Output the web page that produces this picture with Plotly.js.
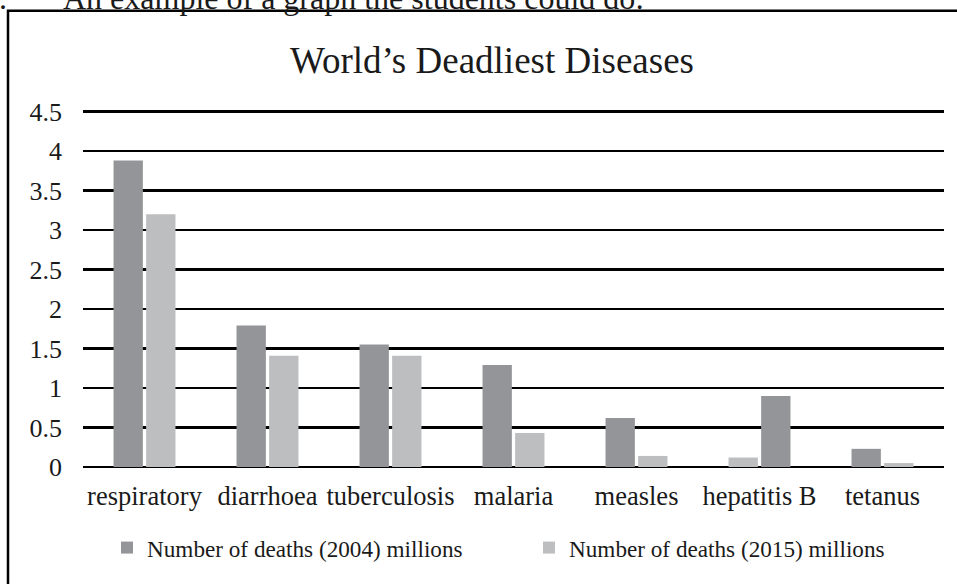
<!DOCTYPE html>
<html>
<head>
<meta charset="utf-8">
<script src="https://cdn.plot.ly/plotly-3.0.1.min.js"></script>
<style>
  html, body { margin: 0; padding: 0; background: #fff; }
  #chart { width: 957px; height: 584px; }
</style>
</head>
<body>
<div id="chart"></div>
<script>
// ---- data ----
const categories = ["respiratory", "diarrhoea", "tuberculosis", "malaria", "measles", "hepatitis B", "tetanus"];
const seriesNames = ["Number of deaths (2004) millions", "Number of deaths (2015) millions"];
// values as drawn in the left and right bar slots of each group
const leftValues  = [3.88, 1.79, 1.55, 1.29, 0.62, 0.12, 0.23];
const rightValues = [3.20, 1.41, 1.41, 0.43, 0.14, 0.90, 0.05];
// in the hepatitis B group the shading of the two bars is swapped
const swappedCategory = "hepatitis B";
const yTicks = [0, 0.5, 1, 1.5, 2, 2.5, 3, 3.5, 4, 4.5];
const titleText = "World\u2019s Deadliest Diseases";
const headingText = "An example of a graph the students could do:";

// ---- styles ----
const DARK = "#939598";
const LIGHT = "#bcbec0";
const TXT = "#1a1a1a";
const FONT = "Liberation Serif, Times New Roman, serif";

const leftColors = categories.map(c => c === swappedCategory ? LIGHT : DARK);
const rightColors = categories.map(c => c === swappedCategory ? DARK : LIGHT);

const W = 957, H = 584;
const yMax = 4.52;
const M = { l: 83, r: 13, t: 110.4, b: 116.5 };
const plotW = W - M.l - M.r, plotH = H - M.t - M.b;
const px2x = px => (px - M.l) / plotW;
const py2y = py => (H - M.b - py) / plotH;

const traces = [
  {
    type: "bar", name: seriesNames[0], x: categories, y: leftValues,
    marker: { color: leftColors, line: { width: 0 } }, hoverinfo: "x+y"
  },
  {
    type: "bar", name: seriesNames[1], x: categories, y: rightValues,
    marker: { color: rightColors, line: { width: 0 } }, hoverinfo: "x+y"
  }
];

const layout = {
  width: W, height: H,
  margin: M,
  paper_bgcolor: "#fff", plot_bgcolor: "#fff",
  font: { family: FONT, color: TXT, size: 25 },
  title: {
    text: titleText,
    font: { family: FONT, size: 37, color: TXT },
    x: 492 / W, xanchor: "center",
    y: 1 - 60 / H, yanchor: "middle", yref: "container"
  },
  barmode: "group",
  bargap: 0.47,
  bargroupgap: 0.1,
  xaxis: {
    type: "category",
    showgrid: false, showline: false, zeroline: false,
    ticks: "", ticklabelstandoff: 10,
    tickfont: { family: FONT, size: 26.5, color: TXT },
    fixedrange: true
  },
  yaxis: {
    range: [0, yMax],
    tickmode: "array", tickvals: yTicks, ticktext: yTicks.map(v => String(v)),
    showgrid: true, gridcolor: "#000", gridwidth: 2.5,
    zeroline: true, zerolinecolor: "#000", zerolinewidth: 2.5,
    showline: false, ticks: "", ticklabelstandoff: 20,
    tickfont: { family: FONT, size: 26, color: TXT },
    fixedrange: true
  },
  showlegend: true,
  legend: {
    orientation: "h",
    x: px2x(107), xanchor: "left",
    y: 1 - 526 / H, yanchor: "top", yref: "container",
    font: { family: FONT, size: 23.2, color: TXT },
    entrywidth: 377, entrywidthmode: "pixels",
    bgcolor: "rgba(0,0,0,0)", borderwidth: 0,
    traceorder: "normal"
  },
  shapes: [
    {
      type: "rect", xref: "paper", yref: "paper",
      x0: px2x(8), x1: px2x(W + 20), y0: py2y(H + 20), y1: py2y(11),
      line: { color: "#000", width: 2.5 }, fillcolor: "rgba(0,0,0,0)", layer: "below"
    }
  ],
  annotations: [
    {
      text: "1.", xref: "paper", yref: "paper",
      x: px2x(9), xanchor: "right", y: py2y(18.5), yanchor: "bottom",
      showarrow: false, font: { family: FONT, size: 32, color: TXT }
    },
    {
      text: headingText, xref: "paper", yref: "paper",
      x: px2x(61), xanchor: "left", y: py2y(18.5), yanchor: "bottom",
      showarrow: false, font: { family: FONT, size: 32, color: TXT }
    }
  ]
};

Plotly.newPlot("chart", traces, layout, { displayModeBar: false, staticPlot: true });
</script>
</body>
</html>
